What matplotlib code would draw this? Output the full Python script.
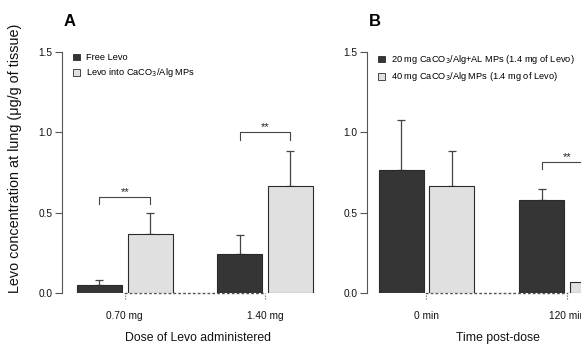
import numpy as np
import matplotlib.pyplot as plt
from matplotlib.patches import Patch

plt.rcParams['font.family'] = ['Liberation Sans', 'DejaVu Sans']

# panel A
doses = ['0.70 mg', '1.40 mg']
free_levo = [0.052, 0.24]
free_levo_err = [0.031, 0.123]
levo_mps = [0.369, 0.664]
levo_mps_err = [0.131, 0.22]
sig_a = [0.60, 1.0]

# panel B
times = ['0 min', '120 min']
al_mps = [0.763, 0.581]
al_mps_err = [0.316, 0.068]
alg_mps = [0.664, 0.068]
alg_mps_err = [0.22, 0.03]
sig_b = [None, 0.815]

dark = '#353535'
light = '#e0e0e0'
edge = '#2a2a2a'
W, H = 581, 346

fig = plt.figure(figsize=(W / 100, H / 100), dpi=100)


def panel(left, x_left, cats, s1, e1, s2, e2, sig, labels, letter, xlabel,
          xlabel_x):
    ax = fig.add_axes([left / W, 53 / H, 257 / W, 241 / H])
    x = np.arange(len(cats))
    off, bw = 0.18, 0.32
    ax.bar(x - off, s1, bw, color=dark, edgecolor=edge, linewidth=0.8,
           zorder=3)
    ax.bar(x + off, s2, bw, color=light, edgecolor=edge, linewidth=0.8,
           zorder=3)
    for xs, v, e in [(x - off, s1, e1), (x + off, s2, e2)]:
        ax.errorbar(xs, v, yerr=[np.zeros(len(v)), e], fmt='none',
                    ecolor='#444444', elinewidth=0.9, capsize=2.8,
                    capthick=0.9, zorder=2, clip_on=False)
    for i, h in enumerate(sig):
        if h is None:
            continue
        ax.plot([x[i] - off, x[i] - off, x[i] + off, x[i] + off],
                [h - 0.045, h, h, h - 0.045], color='#444444', lw=0.8,
                clip_on=False)
        ax.text(x[i], h + 0.0, '**', ha='center', va='bottom', fontsize=8,
                color='#222222', clip_on=False)
    ax.set_xlim(x_left, x_left + 1.83)
    ax.set_ylim(0, 1.5)
    for s in ['top', 'right']:
        ax.spines[s].set_visible(False)
    ax.spines['left'].set_bounds(0, 1.5)
    ax.spines['left'].set_color('#555555')
    ax.spines['bottom'].set_bounds(0, 1)
    ax.spines['bottom'].set_linewidth(1.0)
    ax.spines['bottom'].set_linestyle((0, (1, 2.5)))
    ax.spines['bottom'].set_color('#555555')
    ax.spines['bottom'].set_zorder(1)
    ax.set_yticks([0, 0.5, 1.0, 1.5])
    ax.set_yticklabels(['0.0', '0.5', '1.0', '1.5'])
    ax.set_xticks(x)
    ax.set_xticklabels(cats)
    ax.tick_params(axis='y', length=5, width=0.8, color='#555555',
                   labelsize=7.3, pad=2, labelcolor='#111111')
    ax.tick_params(axis='x', length=0, labelsize=7.3, pad=13,
                   labelcolor='#111111')
    ax.vlines(x, -0.035, 0, colors='#555555', linestyles=(0, (1, 1.5)),
              lw=0.8, clip_on=False)
    handles = [Patch(facecolor=dark, edgecolor=edge, linewidth=0.6),
               Patch(facecolor=light, edgecolor=edge, linewidth=0.6)]
    ax.legend(handles, labels, loc='upper left',
              bbox_to_anchor=(0.03, 1.01), frameon=False, fontsize=6.7,
              handlelength=0.75, handleheight=0.75, handletextpad=0.6,
              labelspacing=0.45, borderaxespad=0)
    fig.text(left / W + 0.003, 1 - 22 / H, letter, fontsize=12,
             fontweight='bold', va='center', ha='left')
    fig.text(xlabel_x / W, 1 - 338 / H, xlabel, fontsize=8.8, ha='center',
             va='center', color='#111111')
    return ax


ax_a = panel(62, -0.447, doses, free_levo, free_levo_err, levo_mps,
             levo_mps_err, sig_a,
             ['Free Levo', 'Levo into CaCO$_3$/Alg MPs'], 'A',
             'Dose of Levo administered', 198)
ax_b = panel(367, -0.423, times, al_mps, al_mps_err, alg_mps, alg_mps_err,
             sig_b,
             ['20 mg CaCO$_3$/Alg+AL MPs (1.4 mg of Levo)',
              '40 mg CaCO$_3$/Alg MPs (1.4 mg of Levo)'], 'B',
             'Time post-dose', 498)

fig.text(15 / W, 1 - 158 / H, 'Levo concentration at lung (μg/g of tissue)',
         rotation=90, fontsize=10.4, ha='center', va='center',
         color='#111111')

fig.savefig('out.png', dpi=100)
